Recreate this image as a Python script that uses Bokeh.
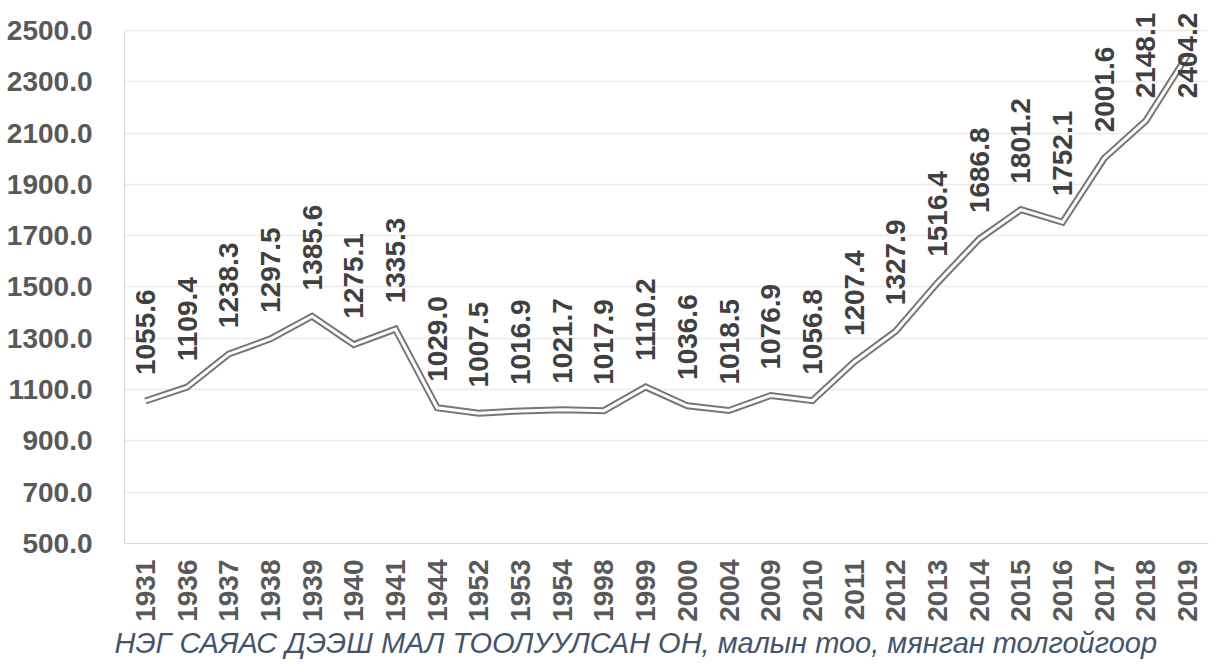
import numpy as np
from bokeh.plotting import figure
from bokeh.models import FactorRange, Range1d, FixedTicker, ColumnDataSource, Title
from bokeh.core.properties import value
from bokeh.embed import file_html
from bokeh.resources import INLINE

years = ["1931", "1936", "1937", "1938", "1939", "1940", "1941", "1944", "1952", "1953",
         "1954", "1998", "1999", "2000", "2004", "2009", "2010", "2011", "2012", "2013",
         "2014", "2015", "2016", "2017", "2018", "2019"]
livestock = [1055.6, 1109.4, 1238.3, 1297.5, 1385.6, 1275.1, 1335.3, 1029.0, 1007.5, 1016.9,
             1021.7, 1017.9, 1110.2, 1036.6, 1018.5, 1076.9, 1056.8, 1207.4, 1327.9, 1516.4,
             1686.8, 1801.2, 1752.1, 2001.6, 2148.1, 2404.2]
y_ticks = [500, 700, 900, 1100, 1300, 1500, 1700, 1900, 2100, 2300, 2500]
axis_title = "НЭГ САЯАС ДЭЭШ МАЛ ТООЛУУЛСАН ОН, малын тоо, мянган толгойгоор"

FONT = "Liberation Sans"

vals = np.array(livestock)
label_y = np.minimum(vals + 101, 2235)
src = ColumnDataSource(dict(x=years, y=livestock, ly=label_y,
                            txt=[f"{v:.1f}" for v in livestock]))

p = figure(width=1212, height=664, output_backend="svg", toolbar_location=None,
           x_range=FactorRange(*years, range_padding=0), y_range=Range1d(500, 2597),
           min_border_left=124, min_border_top=5, min_border_bottom=121, min_border_right=4)
p.outline_line_color = None
p.background_fill_color = "white"
p.border_fill_color = "white"

p.line("x", "y", source=src, line_color="#767676", line_width=7, line_join="miter")
p.line("x", "y", source=src, line_color="white", line_width=3, line_join="miter")

p.text("x", "ly", text="txt", source=src, angle=np.pi / 2, text_align="left",
       text_baseline="middle", text_font=value(FONT), text_font_style="bold",
       text_font_size="28px", text_color="#404040")

p.xgrid.grid_line_color = None
p.ygrid.grid_line_color = "#ebebeb"
p.ygrid.grid_line_width = 1.5

p.yaxis.ticker = FixedTicker(ticks=y_ticks)
p.yaxis.bounds = (500, 2500)
p.yaxis.major_label_overrides = {t: f"{t:.1f}" for t in y_ticks}
p.yaxis.major_label_text_font = FONT
p.yaxis.major_label_text_font_style = "bold"
p.yaxis.major_label_text_font_size = "28px"
p.yaxis.major_label_text_color = "#595959"
p.yaxis.major_label_standoff = 26
p.yaxis.axis_line_color = "#d9d9d9"
p.yaxis.major_tick_line_color = None
p.yaxis.minor_tick_line_color = None

p.xaxis.major_label_orientation = np.pi / 2
p.xaxis.major_label_text_font = FONT
p.xaxis.major_label_text_font_style = "bold"
p.xaxis.major_label_text_font_size = "28px"
p.xaxis.major_label_text_color = "#595959"
p.xaxis.major_label_standoff = 10
p.xaxis.axis_line_color = "#d9d9d9"
p.xaxis.major_tick_line_color = None
p.xaxis.minor_tick_line_color = None

t = Title(text=axis_title, align="left", offset=-10, text_font=FONT,
          text_font_style="italic", text_font_size="29px", text_color="#44546a",
          standoff=0)
p.add_layout(t, "below")

open("out.html", "w").write(file_html(p, INLINE))
